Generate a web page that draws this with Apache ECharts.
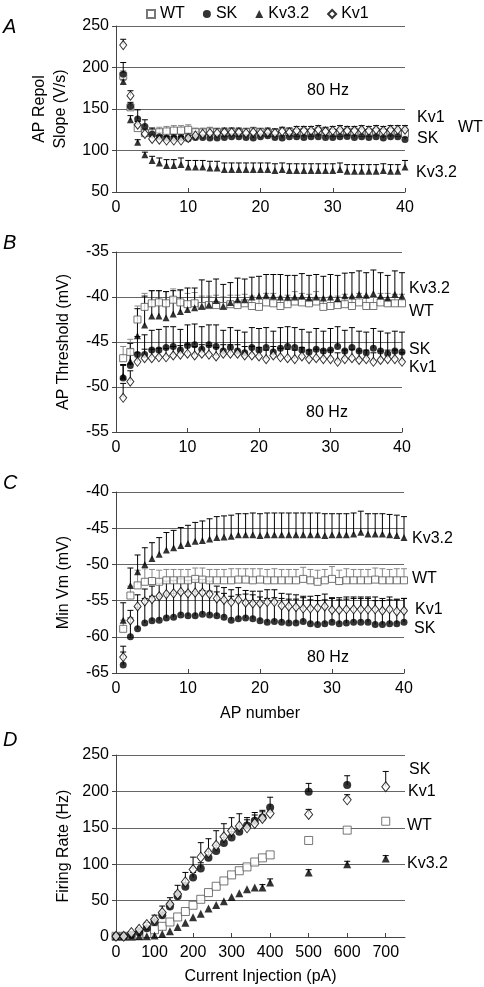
<!DOCTYPE html>
<html>
<head>
<meta charset="utf-8">
<script src="https://cdn.jsdelivr.net/npm/echarts@6/dist/echarts.min.js"></script>
<style>html,body{margin:0;padding:0;background:#fff}#c{width:484px;height:987px}</style>
</head>
<body>
<div id="c"></div>
<script>
// ---------- DATA ----------
const ap_number = [1,2,3,4,5,6,7,8,9,10,11,12,13,14,15,16,17,18,19,20,21,22,23,24,25,26,27,28,29,30,31,32,33,34,35,36,37,38,39,40];
const ap_ticks = [0,10,20,30,40];

// Panel A: AP repolarization slope (V/s)
const a_wt   = [190,152,127,121,121,122,123,124,124,125,122,122,123,122,121,122,121,122,123,122,121,121,122,122,121,122,121,123,122,121,121,122,122,121,121,122,121,122,121,120];
const a_sk   = [192,153,138,129,120,116.5,115,115,115,114.3,115.8,115.8,115,115,115.8,116.6,116.6,115.8,115,116.6,117.8,115.8,115,116.6,116.6,115.8,116.6,116.6,115.8,115.8,116.6,117,115.8,116.6,115.8,116.6,115,116.6,116.6,113.4];
const a_kv32 = [183,137,110,95,88,85,82,82,83,80,80,80,79,79,77,77,77,77,77,77,77,76,77,76,76,76,76,76,76,76,77,75,75,75,75,75,76,75,75,80];
const a_kv1  = [227,166,131,120,114,113,112,112,112,115,118,120,121,121,122,122,122,121,122,121,122,121,123,122,124,124,124,125,123,124,125,124,124,125,124,125,124,125,125,125];
const a_wt_e   = [6,4,5,5,6,6,6,6,6,6,5,5,5,5,5,5,5,5,5,5,5,5,5,5,5,5,5,5,5,5,5,5,5,5,5,5,5,5,5,5];
const a_sk_e   = [14,5,11,8,7,5,5,4,4,4,4,4,4,4,4,4,4,4,4,4,4,4,4,4,4,4,4,4,4,4,4,4,4,4,4,4,4,4,4,4];
const a_kv32_e = [2,5,3,3,5,6,7,7,8,8,8,8,8,8,8,8,8,8,8,8,8,8,8,8,8,8,8,8,8,8,8,8,8,8,8,8,8,8,8,8];
const a_kv1_e  = [7,6,4,4,5,5,5,5,5,5,5,5,5,5,5,5,5,5,5,5,5,5,5,5,5,5,5,5,5,5,5,5,5,5,5,5,5,5,5,5];

// Panel B: AP threshold (mV)
const b_wt   = [-46.8,-46.1,-42.5,-41.1,-40.7,-40.6,-40.7,-40.3,-40.6,-40.8,-40.7,-41.0,-40.9,-40.9,-41.0,-40.8,-40.9,-40.7,-41.0,-41.1,-40.6,-40.7,-41.0,-40.8,-40.5,-40.6,-40.7,-40.5,-41.1,-41.0,-40.9,-40.8,-41.0,-40.6,-41.0,-41.0,-40.6,-40.7,-40.7,-40.7];
const b_sk   = [-49.0,-47.6,-46.4,-46.4,-45.9,-45.9,-45.6,-45.5,-45.9,-45.4,-45.3,-45.8,-45.3,-45.5,-46.0,-45.6,-46.0,-46.2,-45.6,-45.9,-45.6,-46.1,-45.7,-45.5,-45.6,-45.9,-46.1,-45.8,-46.0,-45.9,-45.5,-46.0,-45.6,-46.0,-46.2,-45.7,-46.0,-46.3,-46.0,-46.1];
const b_kv32 = [-48.8,-47.15,-44.3,-43.1,-42.1,-42.1,-42.3,-41.9,-41.6,-41.4,-41.2,-41.0,-40.85,-40.4,-41.0,-40.6,-40.3,-40.3,-40.0,-39.9,-39.8,-39.9,-40.0,-40.0,-40.0,-39.9,-40.1,-40.0,-40.1,-40.0,-40.2,-39.85,-39.9,-39.7,-39.8,-39.6,-39.9,-40.1,-39.7,-39.9];
const b_kv1  = [-51.2,-49.4,-47.2,-46.8,-46.8,-46.7,-46.7,-46.5,-46.4,-46.3,-46.5,-46.3,-46.4,-46.6,-46.3,-46.3,-46.3,-46.5,-46.5,-46.6,-46.9,-46.5,-46.7,-46.8,-46.9,-46.6,-46.9,-46.8,-46.9,-46.9,-47.2,-46.9,-46.8,-47.0,-46.9,-47.2,-47.0,-46.9,-46.9,-47.2];
const b_wt_e   = [1.3,1.4,1.5,1.5,1.4,1.3,1.3,1.2,1.3,1.2,1.2,1.1,1.0,1.1,1.0,1.0,1.1,1.0,1.1,1.0,1.0,1.1,1.0,1.0,1.1,1.0,1.0,1.1,1.0,1.0,1.0,1.1,1.0,1.0,1.1,1.0,1.0,1.1,1.0,1.0];
const b_sk_e   = [1.5,1.8,2.0,2.2,2.2,2.3,2.3,2.2,2.3,2.3,2.3,2.5,2.2,2.4,2.3,2.2,2.3,2.3,2.2,2.4,2.2,2.3,2.3,2.2,2.2,2.3,2.2,2.3,2.2,2.4,2.2,2.3,2.2,2.2,2.3,2.2,2.2,2.3,2.2,2.2];
const b_kv32_e = [1.2,2.0,3.0,3.2,2.8,2.8,2.9,2.6,2.4,2.4,2.2,2.9,2.6,2.4,2.4,2.2,2.4,2.3,2.2,2.2,2.3,2.4,2.5,2.4,2.4,2.5,2.5,2.5,2.4,2.5,2.6,2.5,2.6,2.6,2.5,2.6,2.6,2.5,2.6,2.6];
const b_kv1_e  = [1.6,1.2,1.0,1.0,1.0,1.0,1.0,1.0,1.0,1.0,1.0,1.0,1.0,1.0,1.0,1.0,1.0,1.0,1.0,1.0,1.0,1.0,1.0,1.0,1.0,1.0,1.0,1.0,1.0,1.0,1.0,1.0,1.0,1.0,1.0,1.0,1.0,1.0,1.0,1.0];

// Panel C: Min Vm (mV)
const c_wt   = [-58.9,-54.3,-52.9,-52.4,-52.3,-52.4,-52.2,-52.2,-52.2,-52.2,-52.0,-52.1,-52.2,-52.2,-52.2,-52.2,-52.1,-52.1,-52.2,-52.1,-52.2,-52.2,-52.2,-52.2,-52.2,-52.0,-52.2,-52.4,-52.2,-52.0,-52.3,-52.2,-52.2,-52.2,-52.2,-52.1,-52.2,-52.2,-52.2,-52.2];
const c_sk   = [-63.9,-60.0,-58.9,-58.1,-57.8,-57.7,-57.4,-57.3,-57.0,-57.1,-57.1,-56.9,-57.0,-57.1,-57.3,-57.7,-57.5,-57.4,-57.5,-57.8,-58.0,-57.9,-58.0,-58.1,-58.1,-57.9,-58.2,-58.3,-58.2,-58.0,-58.2,-58.1,-58.0,-58.0,-58.0,-58.3,-58.3,-58.2,-58.2,-58.0];
const c_kv32 = [-57.7,-52.9,-51.0,-50.0,-49.2,-48.6,-48.0,-47.7,-47.4,-47.1,-46.8,-46.7,-46.5,-46.3,-46.2,-46.1,-45.9,-45.9,-45.9,-46.0,-45.9,-45.9,-45.9,-45.9,-45.9,-45.9,-45.9,-45.9,-46.0,-45.9,-45.9,-45.9,-45.8,-45.55,-45.8,-45.8,-45.8,-45.9,-46.0,-46.3];
const c_kv1  = [-62.8,-57.75,-55.8,-55.1,-54.8,-54.4,-54.1,-54.0,-53.8,-54.0,-53.9,-53.9,-54.1,-54.7,-54.9,-55.2,-54.9,-55.3,-55.4,-55.4,-55.2,-55.2,-55.7,-55.8,-55.9,-56.1,-56.1,-56.0,-55.8,-56.3,-56.3,-56.2,-56.2,-56.2,-56.2,-56.2,-56.4,-56.2,-56.5,-56.4];
const c_wt_e   = [1.2,1.3,2.1,1.8,1.6,1.6,1.5,1.5,1.5,1.5,1.5,1.6,1.5,1.5,1.5,1.6,1.5,1.5,1.6,1.5,1.5,1.6,1.5,1.5,1.5,1.6,1.5,1.6,1.5,1.7,1.5,1.6,1.5,1.5,1.5,1.6,1.6,1.5,1.6,1.6];
const c_sk_e   = [1.8,2.6,3.0,3.4,3.4,3.3,3.3,3.3,3.3,3.3,3.3,3.3,3.3,3.3,3.3,3.3,3.3,3.3,3.3,3.3,3.3,3.3,3.3,3.3,3.3,3.3,3.3,3.3,3.3,3.3,3.3,3.3,3.3,3.3,3.3,3.3,3.3,3.3,3.3,3.3];
const c_kv32_e = [2.4,2.4,2.3,2.3,2.2,2.3,2.4,2.4,2.5,2.5,2.6,2.7,2.8,2.9,2.9,2.9,2.9,2.9,3.0,3.0,3.0,3.0,3.0,3.0,3.0,3.0,3.0,3.0,3.0,2.9,2.9,2.9,2.9,2.9,2.8,2.8,2.8,2.8,2.8,2.9];
const c_kv1_e  = [1.5,1.4,1.6,1.7,1.8,1.8,1.8,1.8,1.8,1.8,1.8,1.8,1.8,1.7,1.7,1.7,1.7,1.7,1.7,1.7,1.7,1.7,1.7,1.7,1.7,1.7,1.7,1.7,1.7,1.7,1.7,1.7,1.7,1.7,1.7,1.7,1.7,1.7,1.7,1.7];

// Panel D: Firing rate (Hz) vs current injection (pA)
const d_current = [0,20,40,60,80,100,120,140,160,180,200,220,240,260,280,300,320,340,360,380,400,500,600,700];
const d_wt   = [1,1,1,2,4.6,10,14.7,20.6,27.5,35,43.6,51.8,61,69.7,77,85.3,91,96.3,103,108.7,112.8,132.6,146.8,159];
const d_sk   = [1,1,3,6.4,12,20.6,30,42,56,69,81.7,94,109,118,129,136.7,144.5,153,159.6,164,178,199.5,208.7,null];
const d_kv32 = [1,1,1,1,1,2,4,8,13.8,19.7,27,32,39,44,49,55,60,65.6,68,68,74.8,88.5,100,107.8];
const d_kv1  = [1,1,6,10.5,17,24,33.5,45,59,75.7,92.7,109.6,116,126,137.6,145.9,152.3,150,156,163,169.7,168.3,188.5,206.4];
const d_sk_e   = [0,0,0,1,2,3,4,5,6,6,7,8,8,8,8,8,8,8,8,8,14,11.5,12.8,0];
const d_kv32_e = [0,0,0,0,0,0,0,0,0,0,0,0,0,0,0,0,0,0,0,4,5,4,4,4];
const d_kv1_e  = [0,0,1,2,3,6,9,9,12,13,17,20,19,20,18,18,17,14,15,11,2,7,7,21];

const firing_ticks = [0,50,100,150,200,250];

// ---------- CHART ----------
const FONT = '"Liberation Sans", Arial, sans-serif';
const chart = echarts.init(document.getElementById('c'), null, {renderer: 'canvas'});

const styles = {
  'WT':    {symbol: 'rect', symbolSize: 7, itemStyle: {color: '#fff', borderColor: '#555', borderWidth: 1}, err: '#888'},
  'SK':    {symbol: 'circle', symbolSize: 7, itemStyle: {color: '#000'}, err: '#000'},
  'Kv3.2': {symbol: 'triangle', symbolSize: 7, itemStyle: {color: '#000'}, err: '#000'},
  'Kv1':   {symbol: 'diamond', symbolSize: [7, 9], itemStyle: {color: '#fff', borderColor: '#000', borderWidth: 1}, err: '#000'}
};

function pts(xs, ys) {
  const out = [];
  xs.forEach((x, i) => { if (ys[i] !== null && ys[i] !== undefined) out.push([x, ys[i]]); });
  return out;
}
function scatter(name, xs, ys, gi, z, size) {
  const s = styles[name];
  return {type: 'scatter', name: name, xAxisIndex: gi, yAxisIndex: gi, data: pts(xs, ys),
    symbol: s.symbol, symbolSize: size || s.symbolSize, itemStyle: s.itemStyle, z: z || 3, silent: true};
}
function errbars(name, xs, ys, es, gi) {
  const col = styles[name].err;
  const data = [];
  xs.forEach((x, i) => { if (ys[i] !== null && es[i] > 0) data.push([x, ys[i], es[i]]); });
  return {type: 'custom', name: name + ' err', xAxisIndex: gi, yAxisIndex: gi, z: 2, silent: true,
    encode: {x: 0, y: 1}, data: data,
    renderItem: function (params, api) {
      const x = api.value(0), y = api.value(1), e = api.value(2);
      const p0 = api.coord([x, y]);
      const p1 = api.coord([x, y + e]);
      return {type: 'group', children: [
        {type: 'line', shape: {x1: p0[0], y1: p0[1], x2: p1[0], y2: p1[1]}, style: {stroke: col, lineWidth: 1}},
        {type: 'line', shape: {x1: p1[0] - 3, y1: p1[1], x2: p1[0] + 3, y2: p1[1]}, style: {stroke: col, lineWidth: 1}}
      ]};
    }};
}

const grids = [
  {left: 116, width: 289, top: 26, height: 166},
  {left: 116, width: 286, top: 252, height: 180},
  {left: 116, width: 288, top: 492, height: 181},
  {left: 116, width: 289, top: 755, height: 182}
];

const axisLine = {show: true, lineStyle: {color: '#444', width: 1}};
const splitLine = {show: true, lineStyle: {color: '#666', width: 1}};
const labelStyle = {color: '#000', fontSize: 16, fontFamily: FONT};
const nameStyle = {color: '#000', fontSize: 16, fontFamily: FONT};

function xAxisAP(gi, name) {
  return {type: 'value', gridIndex: gi, min: ap_ticks[0], max: ap_ticks[ap_ticks.length - 1], interval: 10,
    axisLine: axisLine, axisTick: {show: true, inside: true, length: 4, lineStyle: {color: '#444'}},
    splitLine: {show: false}, axisLabel: Object.assign({margin: 8}, labelStyle),
    name: name || '', nameLocation: 'middle', nameGap: 33, nameTextStyle: nameStyle};
}
function yAxis(gi, min, max, interval, name, extra) {
  return Object.assign({type: 'value', gridIndex: gi, min: min, max: max, interval: interval,
    axisLine: axisLine, axisTick: {show: true, length: 4, lineStyle: {color: '#444'}},
    splitLine: splitLine, axisLabel: Object.assign({margin: 7}, labelStyle),
    name: name, nameLocation: 'middle', nameGap: 44, nameTextStyle: nameStyle}, extra || {});
}

const series = [
  // A
  errbars('WT', ap_number, a_wt, a_wt_e, 0), errbars('Kv1', ap_number, a_kv1, a_kv1_e, 0),
  errbars('SK', ap_number, a_sk, a_sk_e, 0), errbars('Kv3.2', ap_number, a_kv32, a_kv32_e, 0),
  scatter('WT', ap_number, a_wt, 0), scatter('SK', ap_number, a_sk, 0),
  scatter('Kv3.2', ap_number, a_kv32, 0), scatter('Kv1', ap_number, a_kv1, 0, 4),
  // B
  errbars('WT', ap_number, b_wt, b_wt_e, 1), errbars('Kv1', ap_number, b_kv1, b_kv1_e, 1),
  errbars('SK', ap_number, b_sk, b_sk_e, 1), errbars('Kv3.2', ap_number, b_kv32, b_kv32_e, 1),
  scatter('WT', ap_number, b_wt, 1), scatter('SK', ap_number, b_sk, 1),
  scatter('Kv3.2', ap_number, b_kv32, 1), scatter('Kv1', ap_number, b_kv1, 1),
  // C
  errbars('WT', ap_number, c_wt, c_wt_e, 2), errbars('Kv1', ap_number, c_kv1, c_kv1_e, 2),
  errbars('SK', ap_number, c_sk, c_sk_e, 2), errbars('Kv3.2', ap_number, c_kv32, c_kv32_e, 2),
  scatter('WT', ap_number, c_wt, 2), scatter('SK', ap_number, c_sk, 2),
  scatter('Kv3.2', ap_number, c_kv32, 2), scatter('Kv1', ap_number, c_kv1, 2, 4),
  // D
  errbars('Kv1', d_current, d_kv1, d_kv1_e, 3), errbars('SK', d_current, d_sk, d_sk_e, 3),
  errbars('Kv3.2', d_current, d_kv32, d_kv32_e, 3),
  scatter('WT', d_current, d_wt, 3, 3, 8), scatter('SK', d_current, d_sk, 3, 3, 8),
  scatter('Kv3.2', d_current, d_kv32, 3, 3, 8), scatter('Kv1', d_current, d_kv1, 3, 4, [8, 10])
];

function txt(text, x, y, opts) {
  return Object.assign({type: 'text', x: x, y: y, silent: true,
    style: Object.assign({text: text, font: '16px ' + FONT, fill: '#000', align: 'left', verticalAlign: 'middle'}, (opts || {}))});
}

const graphics = [
  txt('A', 3, 27, {font: 'italic 20px ' + FONT}),
  txt('B', 3, 243, {font: 'italic 20px ' + FONT}),
  txt('C', 3, 483, {font: 'italic 20px ' + FONT}),
  txt('D', 3, 740, {font: 'italic 20px ' + FONT}),
  txt('80 Hz', 328, 91, {align: 'center'}),
  txt('80 Hz', 327, 413, {align: 'center'}),
  txt('80 Hz', 328, 658, {align: 'center'}),
  // A right labels
  txt('Kv1', 417, 118), txt('WT', 458, 128), txt('SK', 417, 139), txt('Kv3.2', 416, 173),
  // B
  txt('Kv3.2', 409, 289), txt('WT', 409, 312), txt('SK', 409, 350), txt('Kv1', 409, 368),
  // C
  txt('Kv3.2', 412, 539), txt('WT', 412, 579), txt('Kv1', 415, 610), txt('SK', 414, 629),
  // D
  txt('SK', 409, 770), txt('Kv1', 408, 792), txt('WT', 407, 826), txt('Kv3.2', 407, 864)
];

chart.setOption({
  animation: false,
  backgroundColor: '#fff',
  textStyle: {fontFamily: FONT},
  legend: {
    data: ['WT', 'SK', 'Kv3.2', 'Kv1'], left: 141, top: 1, itemWidth: 8, itemHeight: 8, itemGap: 18,
    textStyle: {color: '#000', fontSize: 16, fontFamily: FONT}, selectedMode: false
  },
  grid: grids,
  xAxis: [
    xAxisAP(0), xAxisAP(1), xAxisAP(2, 'AP number'),
    {type: 'value', gridIndex: 3, min: 0, max: 750, interval: 100,
      axisLine: axisLine, axisTick: {show: true, inside: true, length: 4, lineStyle: {color: '#444'}},
      splitLine: {show: false}, axisLabel: Object.assign({margin: 8, showMaxLabel: false}, labelStyle),
      name: 'Current Injection (pA)', nameLocation: 'middle', nameGap: 32, nameTextStyle: nameStyle}
  ],
  yAxis: [
    yAxis(0, 50, 250, 50, 'AP Repol\nSlope (V/s)', {nameTextStyle: Object.assign({lineHeight: 21}, nameStyle)}),
    yAxis(1, -55, -35, 5, 'AP Threshold (mV)'),
    yAxis(2, -65, -40, 5, 'Min Vm (mV)'),
    yAxis(3, firing_ticks[0], firing_ticks[firing_ticks.length - 1], 50, 'Firing Rate (Hz)')
  ],
  series: series,
  graphic: graphics
});
</script>
</body>
</html>
